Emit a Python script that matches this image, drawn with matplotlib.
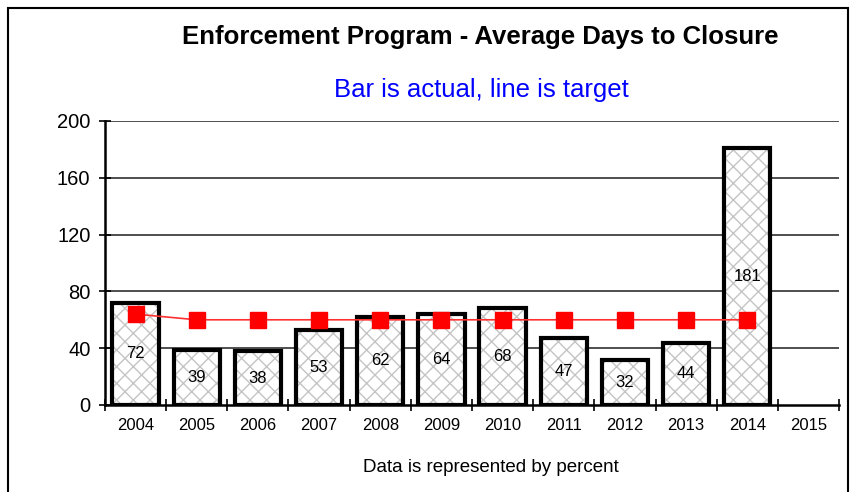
import matplotlib
matplotlib.use("Agg")
import matplotlib.pyplot as plt
import numpy as np
from matplotlib.patches import Rectangle

plt.rcParams['font.family'] = ['Liberation Sans', 'DejaVu Sans']
plt.rcParams['hatch.linewidth'] = 1.0

years = ['2004', '2005', '2006', '2007', '2008', '2009', '2010', '2011', '2012', '2013', '2014', '2015']
actual = [72, 39, 38, 53, 62, 64, 68, 47, 32, 44, 181]
target = [64, 60, 60, 60, 60, 60, 60, 60, 60, 60, 60]

fig = plt.figure(figsize=(8.54, 4.92), dpi=100)
W, H = 854, 492
ax = fig.add_axes([105 / W, 1 - 405 / H, (839 - 105) / W, (405 - 121) / H])

x = np.arange(len(years))
xa = x[:len(actual)]
# hatch fill (light grey cross-hatch)
ax.bar(xa, actual, width=0.76, color='white', edgecolor='#c4c4c4', linewidth=0,
       hatch='xx', zorder=3)
# black outlines
ax.bar(xa, actual, width=0.76, fill=False, edgecolor='black', linewidth=3, zorder=4)

for xi, v in zip(xa, actual):
    ax.text(xi, v / 2, str(v), ha='center', va='center', fontsize=12, zorder=6)

ax.plot(x[:len(target)], target, color='#ff3030', linewidth=1.2, marker='s', markersize=11,
        markerfacecolor='#ff0000', markeredgecolor='#ff0000', zorder=5)

ax.set_xlim(-0.5, len(years) - 0.5)
ax.set_ylim(0, 200)
ax.set_yticks([0, 40, 80, 120, 160, 200])
ax.set_yticklabels(['0', '40', '80', '120', '160', '200'], fontsize=14.5)
ax.set_xticks(x)
ax.set_xticklabels(years, fontsize=12)
ax.set_xticks(np.arange(-0.5, len(years)), minor=True)
ax.tick_params(axis='x', which='major', length=0, pad=9)
ax.tick_params(axis='x', which='minor', length=8, width=1.2, direction='inout')
ax.tick_params(axis='y', length=9, width=1.2, direction='inout', pad=6)

for y in [40, 80, 120, 160, 200]:
    ax.axhline(y, color='#404040', linewidth=1.3, zorder=1)

for s in ['top', 'right']:
    ax.spines[s].set_visible(False)
ax.spines['left'].set_linewidth(1.8)
ax.spines['bottom'].set_linewidth(1.8)

fig.text(480 / W, 1 - 37 / H, 'Enforcement Program - Average Days to Closure', ha='center', va='center',
         fontsize=18.5, fontweight='bold')
fig.text(481 / W, 1 - 90 / H, 'Bar is actual, line is target', ha='center', va='center',
         fontsize=18.5, color='#0000ff')
fig.text(491 / W, 1 - 468 / H, 'Data is represented by percent', ha='center', va='center', fontsize=13.5)

fig.patches.append(Rectangle((8 / W, -0.1), (848 - 8) / W, 1.1 - 8 / H, transform=fig.transFigure,
                             fill=False, edgecolor='black', linewidth=1.5))

fig.savefig('out.png', dpi=100)
